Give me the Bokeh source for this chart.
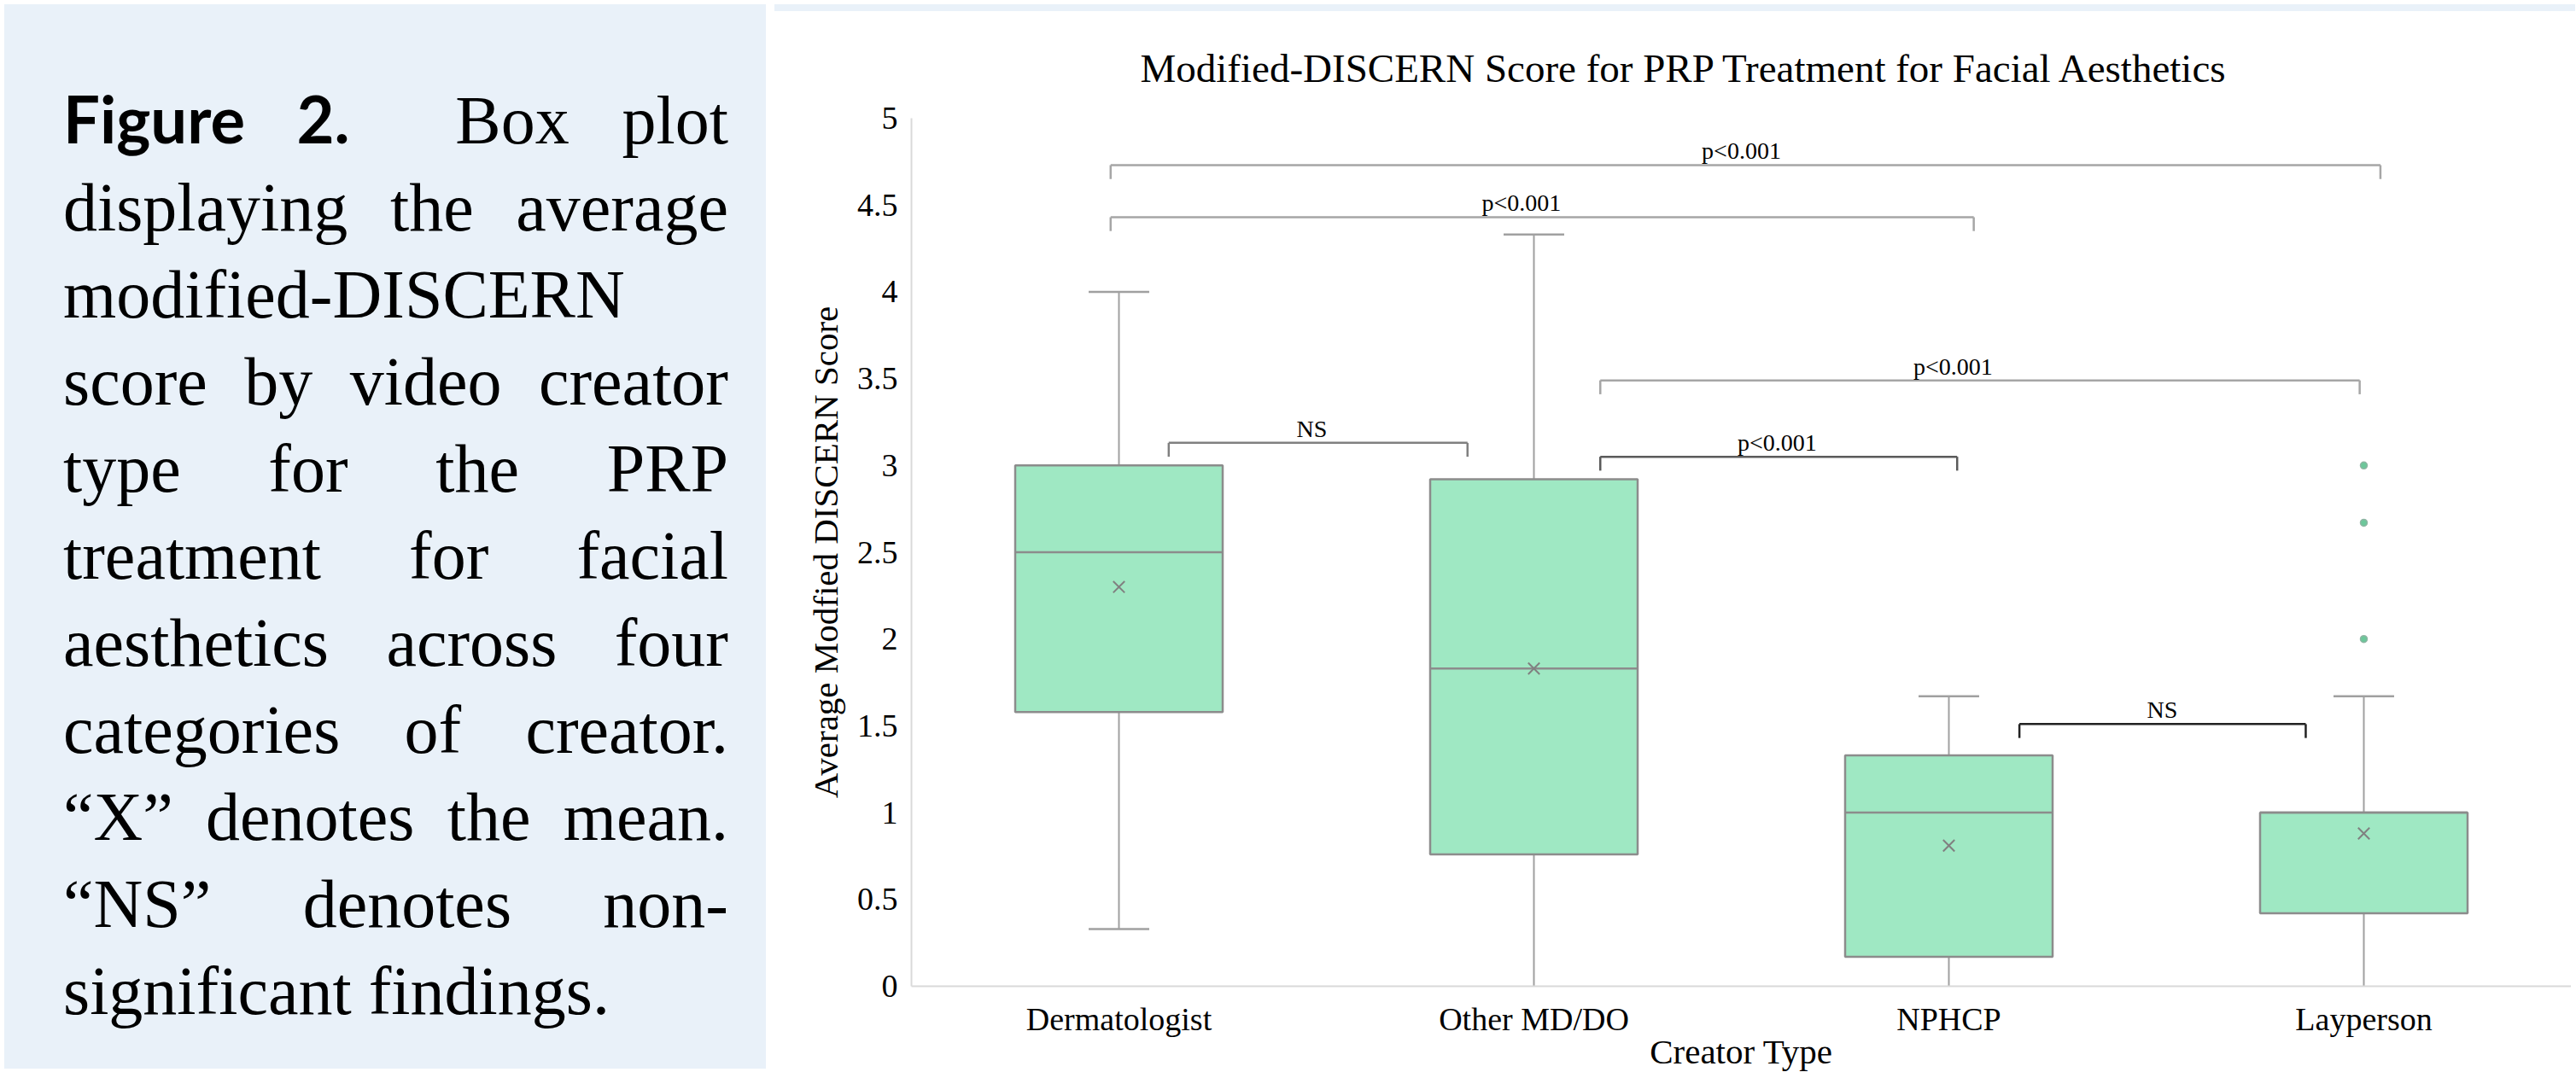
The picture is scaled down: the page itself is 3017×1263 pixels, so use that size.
from bokeh.plotting import figure
from bokeh.models import Range1d, FixedTicker, Div, ColumnDataSource
from bokeh.layouts import row, column
from bokeh.embed import file_html
from bokeh.resources import INLINE
from bokeh.core.properties import value

# ---------------- data ----------------
categories = ["Dermatologist", "Other MD/DO", "NPHCP", "Layperson"]
whisker_low = [0.33, 0.0, 0.0, 0.0]
q1 = [1.58, 0.76, 0.17, 0.42]
median = [2.5, 1.83, 1.0, 1.0]
q3 = [3.0, 2.92, 1.33, 1.0]
whisker_high = [4.0, 4.33, 1.67, 1.67]
means = [2.3, 1.83, 0.81, 0.88]
outlier_category = ["Layperson", "Layperson", "Layperson"]
outlier_values = [3.0, 2.67, 2.0]

ytick_values = [0, 0.5, 1, 1.5, 2, 2.5, 3, 3.5, 4, 4.5, 5]
ytick_labels = ["0", "0.5", "1", "1.5", "2", "2.5", "3", "3.5", "4", "4.5", "5"]

# significance brackets (x in category-axis units, y in score units)
bracket_x0 = [0.48, 0.48, 0.62, 1.66, 1.66, 2.67]
bracket_x1 = [3.54, 2.56, 1.34, 3.49, 2.52, 3.36]
bracket_y = [4.73, 4.43, 3.13, 3.49, 3.05, 1.51]
bracket_label_x = [2.0, 1.47, 0.965, 2.51, 2.086, 3.014]
bracket_labels = ["p<0.001", "p<0.001", "NS", "p<0.001", "p<0.001", "NS"]
bracket_colors = ["#A6A6A6", "#A6A6A6", "#808080", "#A6A6A6", "#5A5A5A", "#222222"]
bracket_drop = 0.08

title_text = "Modified-DISCERN Score for PRP Treatment for Facial Aesthetics"
y_label = "Average Modfied DISCERN Score"
x_label = "Creator Type"

caption_lines = [
    ("<span style=\"font-family:'Lato';font-weight:bold;font-size:76px;\">Figure 2.</span>&nbsp; Box plot", True),
    ("displaying the average", True),
    ("modified-DISCERN", False),
    ("score by video creator", True),
    ("type for the PRP", True),
    ("treatment for facial", True),
    ("aesthetics across four", True),
    ("categories of creator.", True),
    ("\u201cX\u201d denotes the mean.", True),
    ("\u201cNS\u201d denotes non-", True),
    ("significant findings.", False),
]

BLUE = "#E9F1F9"
SERIF = "Liberation Serif"

# ---------------- chart ----------------
xs = [i + 0.5 for i in range(len(categories))]
cat_x = {c: x for c, x in zip(categories, xs)}

p = figure(width=2109, height=1239, x_range=Range1d(0, 4), y_range=Range1d(0, 5),
           output_backend="svg", toolbar_location=None,
           min_border_left=165, min_border_right=0, min_border_top=120, min_border_bottom=101,
           background_fill_color="white", border_fill_color="white", outline_line_color=None)
p.xgrid.visible = False
p.ygrid.visible = False

# title
p.title.text = title_text
p.title.align = "left"
p.title.offset = 268
p.title.standoff = 66
p.title.text_font = SERIF
p.title.text_font_size = "47px"
p.title.text_font_style = "normal"
p.title.text_color = "black"

# axes
p.yaxis.ticker = FixedTicker(ticks=ytick_values)
p.yaxis.major_label_overrides = {v: l for v, l in zip(ytick_values, ytick_labels)}
p.xaxis.ticker = FixedTicker(ticks=xs)
p.xaxis.major_label_overrides = {x: c for x, c in zip(xs, categories)}
for ax in (p.xaxis[0], p.yaxis[0]):
    ax.axis_line_color = "#D9D9D9"
    ax.axis_line_width = 2
    ax.major_tick_line_color = None
    ax.minor_tick_line_color = None
    ax.major_tick_out = 0
    ax.major_tick_in = 0
    ax.major_label_text_font = SERIF
    ax.major_label_text_font_size = "38px"
    ax.major_label_text_color = "black"
    ax.axis_label_text_font = SERIF
    ax.axis_label_text_font_size = "41px"
    ax.axis_label_text_font_style = "normal"
    ax.axis_label_text_color = "black"
p.yaxis.major_label_standoff = 16
p.yaxis.axis_label = y_label
p.yaxis.axis_label_standoff = 11
p.xaxis.major_label_standoff = 17
p.xaxis.axis_label = x_label
p.xaxis.axis_label_standoff = -9

box_src = ColumnDataSource(dict(x=xs, low=whisker_low, q1=q1, med=median, q3=q3,
                                high=whisker_high, mean=means))

# whiskers
p.segment(x0="x", y0="q3", x1="x", y1="high", source=box_src, line_color="#A0A0A0", line_width=2)
p.segment(x0="x", y0="low", x1="x", y1="q1", source=box_src, line_color="#A0A0A0", line_width=2)

# caps (not drawn where the whisker ends on the axis)
cap_x, cap_y = [], []
for x, lo, hi in zip(xs, whisker_low, whisker_high):
    cap_x.append(x); cap_y.append(hi)
    if lo > 0:
        cap_x.append(x); cap_y.append(lo)
cap_src = ColumnDataSource(dict(x0=[x - 0.073 for x in cap_x], x1=[x + 0.073 for x in cap_x], y=cap_y))
p.segment(x0="x0", y0="y", x1="x1", y1="y", source=cap_src, line_color="#A0A0A0", line_width=2.5)

# boxes
p.vbar(x="x", width=0.5, bottom="q1", top="q3", source=box_src,
       fill_color="#9FE8C3", line_color="#8C8C8C", line_width=2.5)
# medians
med_src = ColumnDataSource(dict(x0=[x - 0.25 for x in xs], x1=[x + 0.25 for x in xs], y=median))
p.segment(x0="x0", y0="y", x1="x1", y1="y", source=med_src, line_color="#8C8C8C", line_width=2.5)
# means
p.scatter(x="x", y="mean", source=box_src, marker="x", size=19,
          line_color="#808080", line_width=2)
# outliers
out_src = ColumnDataSource(dict(x=[cat_x[c] for c in outlier_category], y=outlier_values))
p.scatter(x="x", y="y", source=out_src, marker="circle", size=8,
          fill_color="#6CC79A", line_color="#8FB5A3", line_width=1.5)

# significance brackets
br_src = ColumnDataSource(dict(x0=bracket_x0, x1=bracket_x1, y=bracket_y,
                               yd=[y - bracket_drop for y in bracket_y],
                               c=bracket_colors, lx=bracket_label_x, t=bracket_labels))
p.segment(x0="x0", y0="y", x1="x1", y1="y", source=br_src, line_color="c", line_width=2.5)
p.segment(x0="x0", y0="y", x1="x0", y1="yd", source=br_src, line_color="c", line_width=2.5)
p.segment(x0="x1", y0="y", x1="x1", y1="yd", source=br_src, line_color="c", line_width=2.5)
p.text(x="lx", y="y", text="t", source=br_src, text_font=value(SERIF),
       text_font_size="28px", text_align="center", text_baseline="bottom",
       text_color="black", y_offset=-1)

# ---------------- caption ----------------
parts = []
for txt, just in caption_lines:
    if just:
        style = "text-align:justify;text-align-last:justify;"
    else:
        style = "text-align:left;white-space:nowrap;"
    parts.append(f'<div style="{style}">{txt}</div>')
caption_html = (
    f'<div style="box-sizing:border-box;width:892px;height:1247px;background:{BLUE};'
    f"padding:83px 44px 0 69px;font-family:'{SERIF}';font-size:80px;line-height:102px;color:#000;\">"
    + "".join(parts) + "</div>"
)
caption = Div(text=caption_html, width=892, height=1247, styles={"background-color": BLUE})
spacer = Div(text="", width=2109, height=8, styles={"background-color": BLUE})

layout = row(caption, column(spacer, p, spacing=0), spacing=0)

open("out.html", "w").write(file_html(layout, INLINE))
